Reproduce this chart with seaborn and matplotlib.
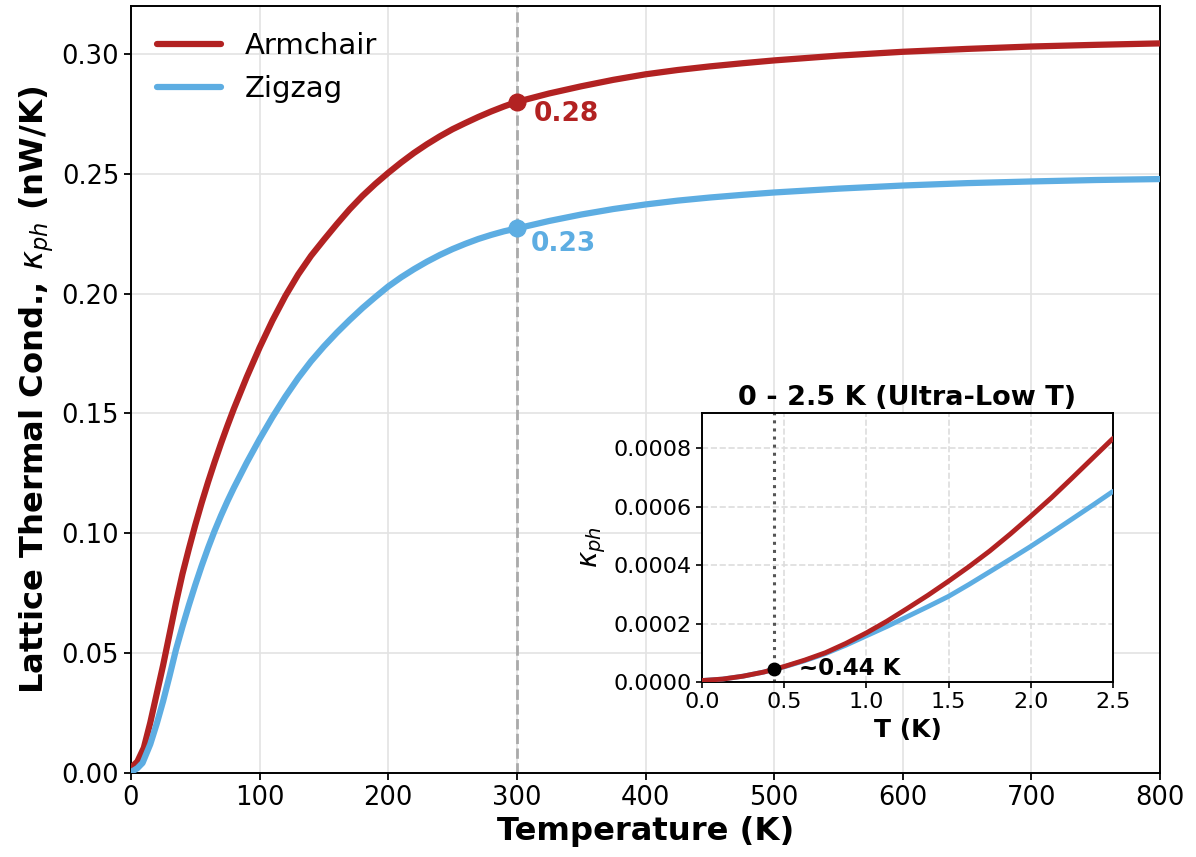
import numpy as np
import pandas as pd
import matplotlib
matplotlib.use('Agg')
import matplotlib.pyplot as plt
import seaborn as sns

# ==========================================
# data
# ==========================================
T_arm = [1, 5, 10, 15, 20, 25, 30, 35, 40, 45, 50, 55, 60, 65, 70, 75, 80, 90,
         100, 110, 120, 130, 140, 150, 160, 170, 180, 190, 200, 210, 220, 230,
         240, 250, 260, 270, 280, 290, 300, 325, 350, 375, 400, 425, 450, 475,
         500, 550, 600, 650, 700, 750, 800]
kappa_arm = [0.0027, 0.0048, 0.0105, 0.021, 0.033, 0.045, 0.058, 0.071, 0.083,
             0.0935, 0.1035, 0.1128, 0.1215, 0.1297, 0.1375, 0.1449, 0.152,
             0.1652, 0.1775, 0.1888, 0.1990, 0.2080, 0.2158, 0.2225, 0.2290,
             0.2352, 0.2408, 0.2458, 0.2504, 0.2547, 0.2587, 0.2623, 0.2656,
             0.2686, 0.2712, 0.2737, 0.2760, 0.2781, 0.2800, 0.2835, 0.2865,
             0.2892, 0.2915, 0.2933, 0.2948, 0.2961, 0.2973, 0.2993, 0.3009,
             0.3021, 0.3031, 0.3038, 0.3044]

T_zig = [1, 5, 9, 15, 20, 25, 30, 35, 40, 45, 50, 55, 60, 65, 70, 75, 80, 90,
         100, 110, 120, 130, 140, 150, 160, 170, 180, 190, 200, 210, 220, 230,
         240, 250, 260, 270, 280, 290, 300, 325, 350, 375, 400, 425, 450, 475,
         500, 550, 600, 650, 700, 750, 800]
kappa_zig = [0.0007, 0.0020, 0.0042, 0.012, 0.0205, 0.030, 0.0405, 0.0515,
             0.061, 0.070, 0.0785, 0.0865, 0.094, 0.101, 0.1074, 0.1134, 0.119,
             0.1295, 0.1393, 0.1485, 0.1570, 0.1648, 0.1718, 0.1780, 0.1837,
             0.1890, 0.1940, 0.1986, 0.2030, 0.2068, 0.2102, 0.2133, 0.2161,
             0.2186, 0.2208, 0.2228, 0.2245, 0.2260, 0.2272, 0.2303, 0.2330,
             0.2353, 0.2372, 0.2388, 0.2401, 0.2412, 0.2422, 0.2438, 0.2451,
             0.2461, 0.2468, 0.2474, 0.2478]

# 0 - 2.5 K zoom
T_low = [0.0, 0.125, 0.25, 0.375, 0.5, 0.625, 0.75, 0.875, 1.0, 1.125, 1.25,
         1.375, 1.5, 1.625, 1.75, 1.875, 2.0, 2.125, 2.25, 2.375, 2.5]
kappa_arm_low = [0.000005, 0.00001, 0.00002, 0.000034, 0.000053, 0.000075,
                 0.0001, 0.000132, 0.000168, 0.000208, 0.000252, 0.000297,
                 0.000345, 0.000395, 0.000448, 0.000506, 0.000567, 0.00063,
                 0.000697, 0.000765, 0.000833]
kappa_zig_low = [0.000005, 0.00001, 0.00002, 0.000034, 0.000052, 0.000073,
                 0.000097, 0.000126, 0.000158, 0.00019, 0.000224, 0.000258,
                 0.000293, 0.000334, 0.000377, 0.00042, 0.000464, 0.00051,
                 0.000557, 0.000604, 0.000652]

T_mark = 300
mark_arm, mark_zig = 0.28, 0.2272
T_cross, kappa_cross = 0.44, 0.000045

RED = '#B22222'
BLUE = '#5DADE2'

sns.set_style("ticks")
plt.rcParams['font.family'] = ['DejaVu Sans']
plt.rcParams.update({'text.color': 'black', 'axes.labelcolor': 'black',
                     'xtick.color': 'black', 'ytick.color': 'black'})

fig = plt.figure(figsize=(11.96, 8.57), dpi=100)
ax = fig.add_axes([0.1095, 0.098, 0.8605, 0.895])

sns.lineplot(x=T_arm, y=kappa_arm, ax=ax, color=RED, lw=4.5, label='Armchair', zorder=3)
sns.lineplot(x=T_zig, y=kappa_zig, ax=ax, color=BLUE, lw=4.5, label='Zigzag', zorder=3)

ax.axvline(T_mark, color='#aaaaaa', ls='--', lw=2, zorder=2)
ax.plot(T_mark, mark_arm, 'o', color=RED, ms=12, zorder=4)
ax.plot(T_mark, mark_zig, 'o', color=BLUE, ms=12, zorder=4)
ax.annotate(f'{mark_arm:.2f}', (T_mark, mark_arm), xytext=(12, -9), textcoords='offset points',
            color=RED, fontsize=19, fontweight='bold', ha='left', va='center')
ax.annotate(f'{mark_zig:.2f}', (T_mark, mark_zig), xytext=(10, -11), textcoords='offset points',
            color=BLUE, fontsize=19, fontweight='bold', ha='left', va='center')

ax.set_xlim(0, 800)
ax.set_ylim(0, 0.32)
ax.set_xlabel('Temperature (K)', fontsize=23.2, fontweight='bold')
ax.set_ylabel(r'Lattice Thermal Cond., $\kappa_{ph}$ (nW/K)', fontsize=23.2, fontweight='bold')
ax.tick_params(labelsize=18.5, width=1.3, length=5)
ax.grid(True, color='#e3e3e3', lw=1.2)
for s in ax.spines.values():
    s.set_linewidth(1.4)
    s.set_color('black')
ax.legend(loc='upper left', frameon=False, fontsize=21, handlelength=2.2)

# ---- inset ----
axin = fig.add_axes([0.587, 0.2042, 0.3436, 0.3139])
sns.lineplot(x=T_low, y=kappa_zig_low, ax=axin, color=BLUE, lw=3.5, zorder=3)
sns.lineplot(x=T_low, y=kappa_arm_low, ax=axin, color=RED, lw=3.5, zorder=3)
axin.axvline(T_cross, color='#555555', ls=':', lw=2.2, zorder=2)
axin.plot(T_cross, kappa_cross, 'o', color='black', ms=9, zorder=5)
axin.annotate('~0.44 K', (T_cross, kappa_cross), xytext=(18, 0), textcoords='offset points',
              fontsize=16.5, fontweight='bold', ha='left', va='center')
axin.set_xlim(0, 2.5)
axin.set_ylim(0, 0.00092)
axin.set_yticks([0, 0.0002, 0.0004, 0.0006, 0.0008])
axin.set_title('0 - 2.5 K (Ultra-Low T)', fontsize=19.5, fontweight='bold')
axin.set_xlabel('T (K)', fontsize=18, fontweight='bold')
axin.set_ylabel(r'$\kappa_{ph}$', fontsize=20)
axin.tick_params(labelsize=16, width=1.2, length=4)
axin.grid(True, color='#dddddd', ls='--', lw=1.2)
for s in axin.spines.values():
    s.set_linewidth(1.4)
    s.set_color('black')

fig.savefig('out.png', dpi=100)
